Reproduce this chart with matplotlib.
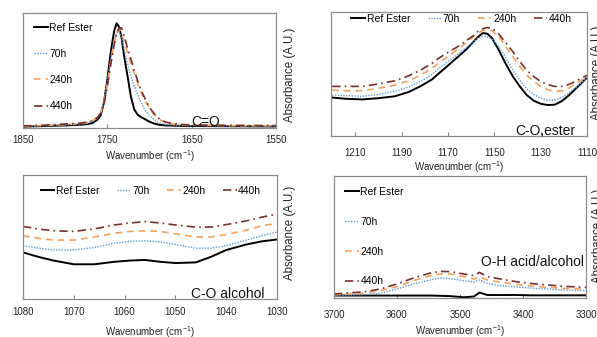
# FTIR spectra panels: ester reference vs. aged samples
import matplotlib
matplotlib.use("Agg")
import matplotlib.pyplot as plt

plt.rcParams['font.family'] = ['Liberation Sans', 'DejaVu Sans']
plt.rcParams['mathtext.fontset'] = 'custom'
plt.rcParams['mathtext.rm'] = 'Liberation Sans'
plt.rcParams['mathtext.it'] = 'Liberation Sans'

labels = ["Ref Ester", "70h", "240h", "440h"]

# --- C=O region (absorbance normalised to panel height) ---
co_x = [1850, 1820, 1800, 1785, 1775, 1768, 1762, 1758, 1754, 1750, 1746, 1742,
        1739, 1736, 1733, 1730, 1726, 1722, 1718, 1714, 1710, 1705, 1700, 1695,
        1690, 1685, 1680, 1670, 1660, 1640, 1620, 1600, 1575, 1550]
co_ref = [0.012, 0.018, 0.022, 0.027, 0.032, 0.042, 0.07, 0.11, 0.22, 0.42, 0.66, 0.84,
          0.91, 0.88, 0.78, 0.62, 0.45, 0.27, 0.16, 0.115, 0.095, 0.075, 0.055, 0.04,
          0.03, 0.025, 0.022, 0.02, 0.018, 0.017, 0.016, 0.015, 0.014, 0.013]
co_70 = [0.014, 0.02, 0.026, 0.032, 0.04, 0.055, 0.09, 0.13, 0.23, 0.40, 0.60, 0.76,
         0.83, 0.84, 0.78, 0.68, 0.56, 0.45, 0.36, 0.29, 0.22, 0.15, 0.11, 0.075,
         0.05, 0.038, 0.03, 0.025, 0.022, 0.02, 0.019, 0.018, 0.017, 0.016]
co_240 = [0.016, 0.024, 0.03, 0.037, 0.045, 0.06, 0.09, 0.13, 0.22, 0.38, 0.57, 0.74,
          0.83, 0.86, 0.83, 0.75, 0.65, 0.56, 0.47, 0.39, 0.31, 0.23, 0.17, 0.12,
          0.085, 0.06, 0.045, 0.032, 0.027, 0.024, 0.022, 0.021, 0.02, 0.019]
co_440 = [0.018, 0.026, 0.035, 0.04, 0.05, 0.062, 0.09, 0.125, 0.21, 0.36, 0.55, 0.72,
          0.82, 0.87, 0.87, 0.80, 0.69, 0.60, 0.50, 0.41, 0.33, 0.25, 0.18, 0.13,
          0.09, 0.065, 0.05, 0.035, 0.03, 0.026, 0.024, 0.023, 0.022, 0.021]

# --- C-O ester region ---
es_x = [1220, 1214, 1207, 1200, 1193, 1187, 1182, 1177, 1173, 1169, 1165, 1162,
        1159, 1157, 1155, 1153, 1151, 1148, 1145, 1142, 1139, 1136, 1133, 1130,
        1127, 1124, 1121, 1118, 1115, 1110]
es_ref = [0.31, 0.30, 0.295, 0.305, 0.32, 0.355, 0.40, 0.455, 0.52, 0.585, 0.65, 0.70,
          0.76, 0.80, 0.83, 0.825, 0.79, 0.69, 0.58, 0.48, 0.40, 0.33, 0.285, 0.26,
          0.25, 0.252, 0.28, 0.325, 0.38, 0.47]
es_70 = [0.33, 0.325, 0.32, 0.335, 0.36, 0.395, 0.44, 0.495, 0.56, 0.615, 0.67, 0.715,
         0.76, 0.79, 0.805, 0.80, 0.78, 0.72, 0.63, 0.53, 0.45, 0.38, 0.335, 0.305,
         0.29, 0.29, 0.31, 0.345, 0.39, 0.47]
es_240 = [0.37, 0.365, 0.365, 0.385, 0.41, 0.445, 0.49, 0.545, 0.60, 0.655, 0.71, 0.755,
          0.80, 0.83, 0.85, 0.855, 0.85, 0.80, 0.72, 0.64, 0.56, 0.49, 0.44, 0.40,
          0.375, 0.36, 0.365, 0.385, 0.42, 0.48]
es_440 = [0.40, 0.40, 0.40, 0.42, 0.445, 0.485, 0.53, 0.585, 0.64, 0.685, 0.73, 0.77,
          0.81, 0.845, 0.865, 0.875, 0.87, 0.82, 0.75, 0.68, 0.60, 0.53, 0.48, 0.44,
          0.415, 0.40, 0.40, 0.415, 0.44, 0.49]

# --- C-O alcohol region ---
al_x = [1080, 1077, 1074, 1070, 1066, 1062, 1059, 1056, 1053, 1050, 1046, 1043,
        1040, 1036, 1033, 1030]
al_ref = [0.376, 0.34, 0.31, 0.28, 0.28, 0.30, 0.31, 0.315, 0.30, 0.29, 0.295, 0.34,
          0.395, 0.44, 0.465, 0.48]
al_70 = [0.43, 0.41, 0.395, 0.395, 0.415, 0.45, 0.465, 0.47, 0.46, 0.44, 0.41, 0.41,
         0.43, 0.475, 0.51, 0.54]
al_240 = [0.51, 0.49, 0.475, 0.475, 0.50, 0.53, 0.545, 0.55, 0.545, 0.525, 0.50, 0.50,
          0.52, 0.556, 0.59, 0.61]
al_440 = [0.585, 0.565, 0.55, 0.545, 0.565, 0.597, 0.613, 0.624, 0.613, 0.597, 0.58, 0.58,
          0.60, 0.63, 0.66, 0.685]

# --- O-H region ---
oh_x = [3700, 3653, 3626, 3600, 3574, 3547, 3531, 3515, 3494, 3478, 3469, 3457,
        3436, 3415, 3389, 3362, 3336, 3300]
oh_ref = [0.02, 0.02, 0.02, 0.02, 0.02, 0.02, 0.018, 0.015, 0.006, 0.012, 0.045, 0.025,
          0.024, 0.025, 0.022, 0.022, 0.022, 0.022]
oh_70 = [0.02, 0.027, 0.04, 0.074, 0.115, 0.148, 0.164, 0.158, 0.142, 0.13, 0.148, 0.12,
         0.10, 0.093, 0.082, 0.074, 0.066, 0.06]
oh_240 = [0.027, 0.038, 0.06, 0.093, 0.142, 0.183, 0.197, 0.197, 0.175, 0.156, 0.175, 0.148,
          0.13, 0.115, 0.10, 0.087, 0.079, 0.074]
oh_440 = [0.033, 0.05, 0.074, 0.115, 0.164, 0.205, 0.218, 0.216, 0.197, 0.183, 0.21, 0.175,
          0.156, 0.137, 0.12, 0.107, 0.096, 0.087]

styles = [
    dict(color="black", lw=1.4, ls="-"),
    dict(color="#5b9bd5", lw=1.0, ls=(0, (1, 1))),
    dict(color="#f4a15d", lw=1.2, ls=(0, (4, 3))),
    dict(color="#7b2e2e", lw=1.2, ls=(0, (5, 2.5, 1, 2.5))),
]

fig = plt.figure(figsize=(5.97, 3.37), dpi=100)

panels = [
    # pos, x, series, xlim, ticks, note, note_x, note_y, tickpad, xlabel_y
    ([23/597, 1-128/337, 253/597, 115/337], co_x, [co_ref, co_70, co_240, co_440],
     (1850, 1550), [1850, 1750, 1650, 1550], "C=O", 1634, 0.015, 4.7, -0.18),
    ([331/597, 1-136/337, 256/597, 124/337], es_x, [es_ref, es_70, es_240, es_440],
     (1220.5, 1110), [1210, 1190, 1170, 1150, 1130, 1110], "C-O,ester", 1128, 0.01, 8.3, -0.19),
    ([23/597, 1-299/337, 254/597, 124/337], al_x, [al_ref, al_70, al_240, al_440],
     (1080, 1030), [1080, 1070, 1060, 1050, 1040, 1030], "C-O alcohol", 1039.7, 0.01, 6.1, -0.2),
    ([334/597, 1-298/337, 252/597, 122/337], oh_x, [oh_ref, oh_70, oh_240, oh_440],
     (3700, 3300), [3700, 3600, 3500, 3400, 3300], "O-H acid/alcohol", 3385, 0.26, 8.3, -0.205),
]

axes = []
for pos, x, series, xlim, ticks, note, nx, ny, pad, xly in panels:
    ax = fig.add_axes(pos)
    for y, lab, st in zip(series, labels, styles):
        ax.plot(x, y, label=lab, **st)
    ax.set_xlim(*xlim)
    ax.set_ylim(0, 1)
    ax.set_xticks(ticks)
    ax.set_yticks([])
    ax.tick_params(axis="x", direction="in", length=3, width=0.8, color="#888888",
                   labelsize=7, pad=pad, labelcolor="#222222")
    for sp in ax.spines.values():
        sp.set_color("#8c8c8c")
        sp.set_linewidth(0.9)
    ax.set_xlabel("Wavenumber (cm$^{-1}$)", fontsize=7, color="#222222")
    ax.xaxis.set_label_coords(0.5, xly)
    ax.text(nx, ny, note, transform=ax.get_xaxis_transform(), ha="center",
            va="baseline", fontsize=10, color="#111111", clip_on=False)
    axes.append(ax)

leg_kw = dict(frameon=False, fontsize=7.5, handlelength=1.3, handletextpad=0.15,
              borderpad=0, borderaxespad=0, loc="upper left")
axes[0].legend(bbox_to_anchor=(0.045, 0.915), labelspacing=1.55, **leg_kw)
axes[1].legend(bbox_to_anchor=(0.08, 0.985), ncol=4, columnspacing=1.7, **leg_kw)
axes[2].legend(bbox_to_anchor=(0.07, 0.915), ncol=4, columnspacing=1.7, **leg_kw)
axes[3].legend(bbox_to_anchor=(0.045, 0.91), labelspacing=1.9, **leg_kw)

ylab = dict(rotation=90, ha="center", va="center", fontsize=8.3, color="#222222")
fig.text(290/597, 1-75/337, "Absorbance (A.U.)", **ylab)
fig.text(290/597, 1-233/337, "Absorbance (A.U.)", **ylab)
fig.text(597/597, 1-73/337, "Absorbance (A.U.)", **ylab)
fig.text(598/597, 1-236/337, "Absorbance (A.U.)", **ylab)

fig.savefig("out.png", dpi=100)
